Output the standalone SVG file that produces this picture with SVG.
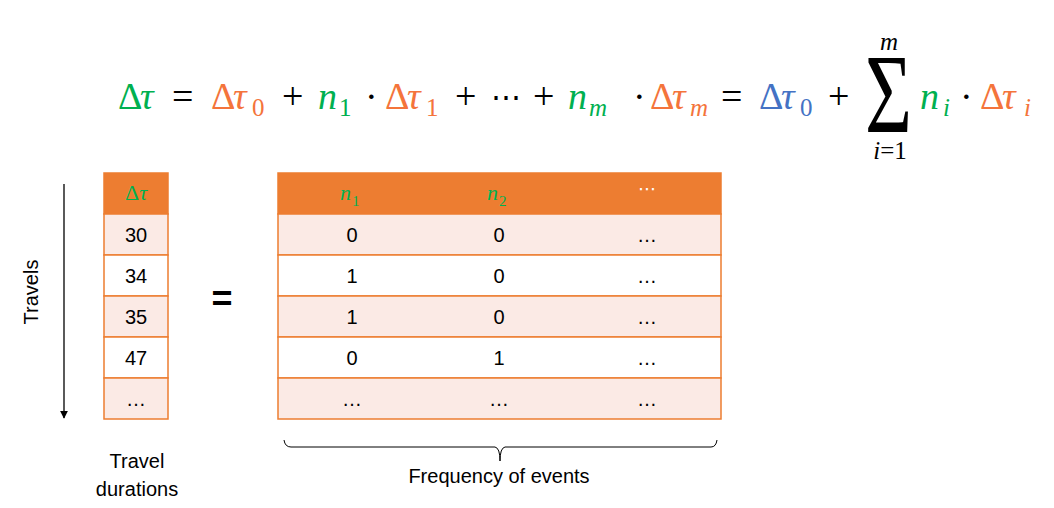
<svg xmlns="http://www.w3.org/2000/svg" width="1054" height="508" viewBox="0 0 1054 508">
<style>
.eq{font-family:"Liberation Serif","DejaVu Serif",serif;font-size:38px}
.sub{font-family:"Liberation Serif","DejaVu Serif",serif;font-size:25px}
.it{font-style:italic}
.g{fill:#00B050}.o{fill:#F4743B}.b{fill:#4472C4}.k{fill:#000}
.lbl{font-family:"Liberation Sans","DejaVu Sans",sans-serif;font-size:20px;fill:#000}
.cell{font-family:"Liberation Sans","DejaVu Sans",sans-serif;font-size:20px;fill:#000;text-anchor:middle}
.hd{fill:#ED7D31;stroke:#ED7D31;stroke-width:1.5}
.odd{fill:#FBEAE5;stroke:#ED7D31;stroke-width:1.5}
.even{fill:#FFFFFF;stroke:#ED7D31;stroke-width:1.5}
.hdt{font-family:"Liberation Serif","DejaVu Serif",serif;font-size:22px;fill:#00B050}
</style>
<defs>
<marker id="ah" viewBox="0 0 10 10" refX="9" refY="5" markerWidth="8" markerHeight="8" orient="auto" markerUnits="userSpaceOnUse"><path d="M0,0 L10,5 L0,10 z" fill="#000"/></marker>
</defs>
<rect width="1054" height="508" fill="#fff"/>

<g id="equation">
<text class="eq" y="109"><tspan class="g" x="118">Δ</tspan><tspan class="g it" x="140">τ</tspan></text>
<text class="eq k" x="172" y="109">=</text>
<text class="eq" y="109"><tspan class="o" x="211">Δ</tspan><tspan class="o it" x="233">τ</tspan></text>
<text class="sub o" x="252" y="116">0</text>
<text class="eq k" x="282" y="109">+</text>
<text class="eq g it" x="318" y="109">n</text>
<text class="sub g" x="339" y="116">1</text>
<text class="eq k" x="365" y="109">·</text>
<text class="eq" y="109"><tspan class="o" x="385">Δ</tspan><tspan class="o it" x="407">τ</tspan></text>
<text class="sub o" x="426" y="116">1</text>
<text class="eq k" x="455" y="109">+</text>
<text class="k" x="491" y="107" style="font-family:'DejaVu Serif',serif;font-size:30px">⋯</text>
<text class="eq k" x="533" y="109">+</text>
<text class="eq g it" x="568" y="109">n</text>
<text class="sub g it" x="589" y="116">m</text>
<text class="eq k" x="633" y="109">·</text>
<text class="eq" y="109"><tspan class="o" x="650">Δ</tspan><tspan class="o it" x="672">τ</tspan></text>
<text class="sub o it" x="690" y="116">m</text>
<text class="eq k" x="721" y="109">=</text>
<text class="eq" y="109"><tspan class="b" x="759">Δ</tspan><tspan class="b it" x="781">τ</tspan></text>
<text class="sub b" x="800" y="116">0</text>
<text class="eq k" x="828" y="109">+</text>
<text class="k" x="865" y="132" style="font-family:'Liberation Serif',serif;font-size:112px" textLength="47" lengthAdjust="spacingAndGlyphs">Σ</text>
<text class="sub k it" x="889" y="50" text-anchor="middle">m</text>
<text class="sub k" x="890" y="159" text-anchor="middle"><tspan class="it">i</tspan>=1</text>
<text class="eq g it" x="920" y="109">n</text>
<text class="sub g it" x="943" y="116">i</text>
<text class="eq k" x="960" y="109">·</text>
<text class="eq" y="109"><tspan class="o" x="980">Δ</tspan><tspan class="o it" x="1002">τ</tspan></text>
<text class="sub o it" x="1024" y="116">i</text>
</g>

<g id="connectors">
<line x1="64" y1="184" x2="64" y2="418" stroke="#000" stroke-width="1.3" marker-end="url(#ah)"/>
<path d="M284,440 Q285,447 291,447 L495,447 Q500,448 500,461 Q500,448 505,447 L711,447 Q716,447 717,440" fill="none" stroke="#000" stroke-width="1"/>
</g>

<g id="travels-label">
<text class="lbl" transform="translate(38,292) rotate(-90)" text-anchor="middle">Travels</text>
</g>

<g id="durations-table">
<rect class="hd" x="104" y="173" width="64" height="41"/>
<rect class="odd" x="104" y="214" width="64" height="41"/>
<rect class="even" x="104" y="255" width="64" height="41"/>
<rect class="odd" x="104" y="296" width="64" height="41"/>
<rect class="even" x="104" y="337" width="64" height="41"/>
<rect class="odd" x="104" y="378" width="64" height="41"/>
<text class="hdt" x="136" y="200" text-anchor="middle">Δ<tspan font-style="italic">τ</tspan></text>
<text class="cell" x="136" y="242">30</text>
<text class="cell" x="136" y="283">34</text>
<text class="cell" x="136" y="324">35</text>
<text class="cell" x="136" y="365">47</text>
<text class="cell" x="136" y="406">…</text>
</g>

<g id="equals">
<text x="222" y="311" text-anchor="middle" style="font-family:'Liberation Sans',sans-serif;font-size:36px;font-weight:bold">=</text>
</g>

<g id="frequency-table">
<rect class="hd" x="278" y="173" width="443" height="41"/>
<rect class="odd" x="278" y="214" width="443" height="41"/>
<rect class="even" x="278" y="255" width="443" height="41"/>
<rect class="odd" x="278" y="296" width="443" height="41"/>
<rect class="even" x="278" y="337" width="443" height="41"/>
<rect class="odd" x="278" y="378" width="443" height="41"/>
<text class="hdt" x="340" y="200" font-style="italic">n</text>
<text class="hdt" x="352" y="206" style="font-size:15px">1</text>
<text class="hdt" x="487" y="200" font-style="italic">n</text>
<text class="hdt" x="499" y="206" style="font-size:15px">2</text>
<text x="647" y="195" text-anchor="middle" style="font-family:'DejaVu Sans',sans-serif;font-size:18px;fill:#fff">⋯</text>
<text class="cell" x="352" y="242">0</text><text class="cell" x="499" y="242">0</text><text class="cell" x="647" y="242">…</text>
<text class="cell" x="352" y="283">1</text><text class="cell" x="499" y="283">0</text><text class="cell" x="647" y="283">…</text>
<text class="cell" x="352" y="324">1</text><text class="cell" x="499" y="324">0</text><text class="cell" x="647" y="324">…</text>
<text class="cell" x="352" y="365">0</text><text class="cell" x="499" y="365">1</text><text class="cell" x="647" y="365">…</text>
<text class="cell" x="352" y="406">…</text><text class="cell" x="499" y="406">…</text><text class="cell" x="647" y="406">…</text>
</g>

<g id="travel-durations-label">
<text class="lbl" x="137" y="468" text-anchor="middle">Travel</text>
<text class="lbl" x="137" y="496" text-anchor="middle">durations</text>
</g>

<g id="frequency-label">
<text class="lbl" x="499" y="483" text-anchor="middle">Frequency of events</text>
</g>
</svg>
